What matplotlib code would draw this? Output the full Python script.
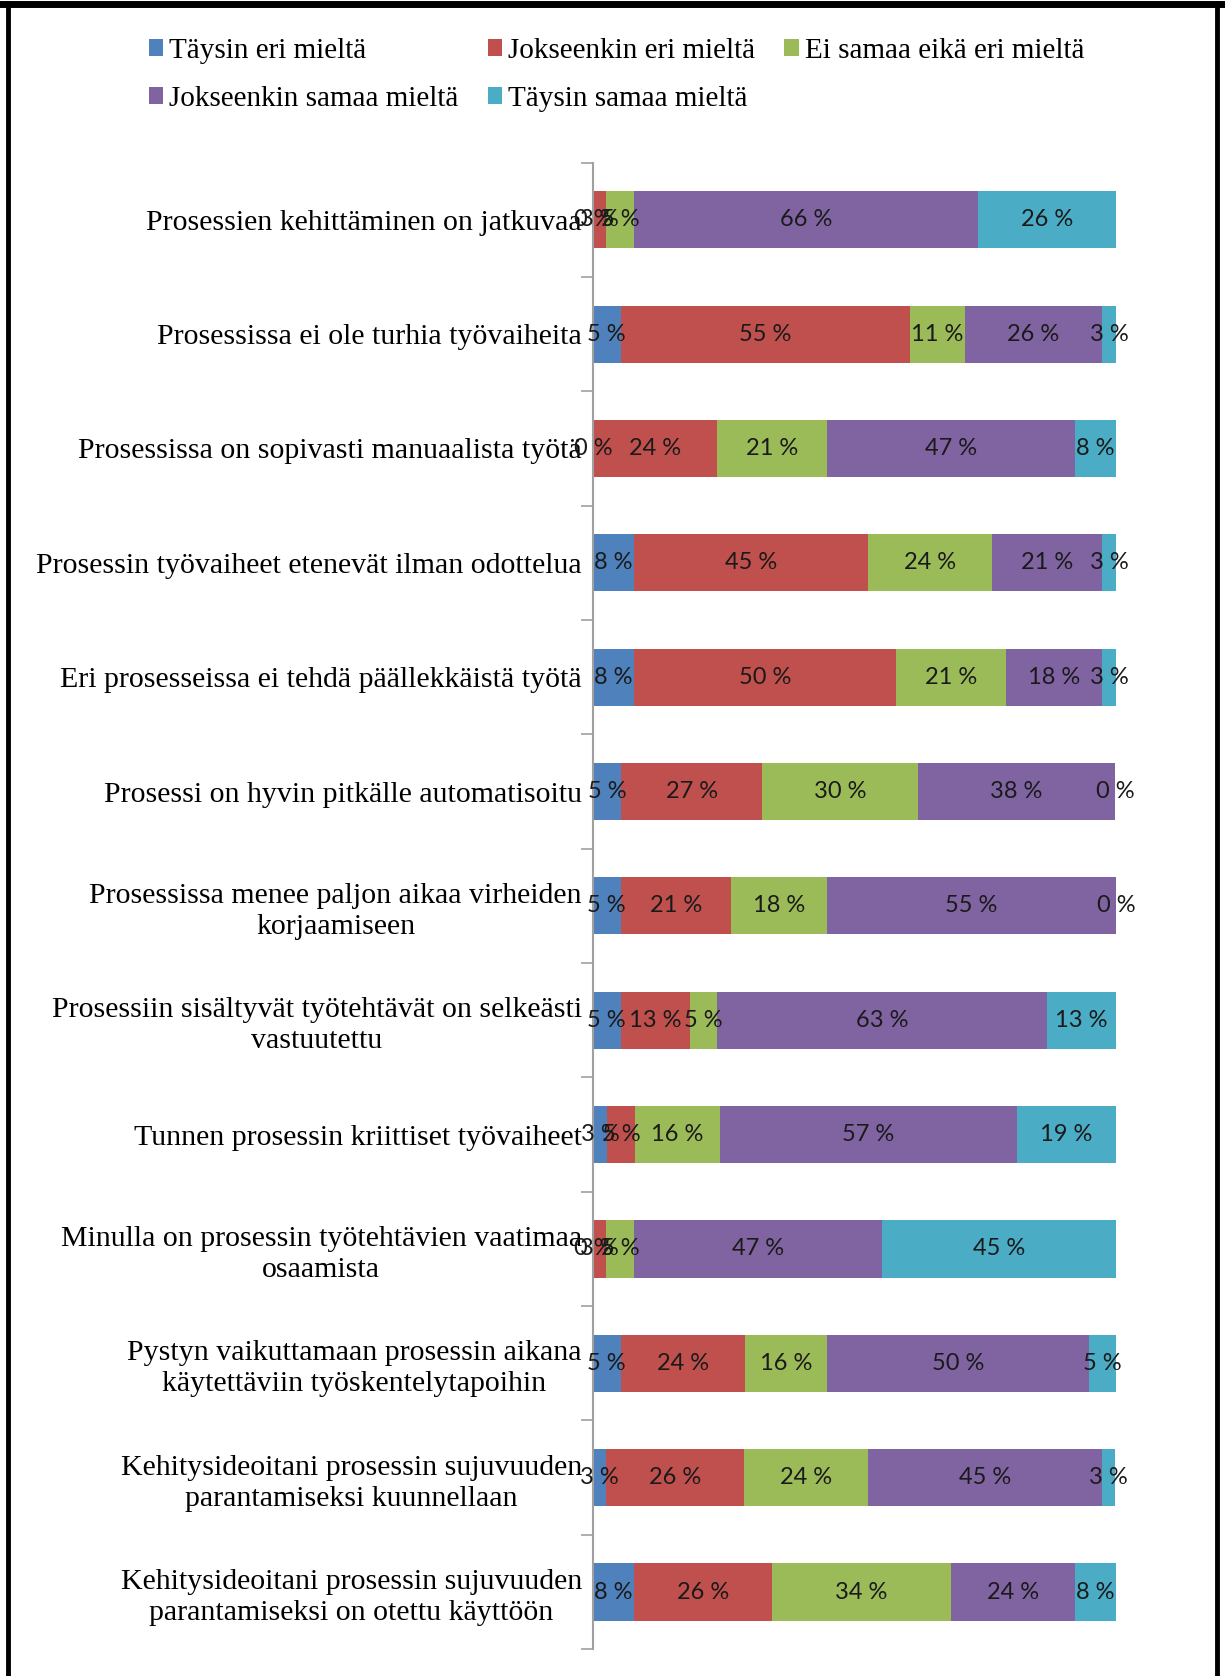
import matplotlib.pyplot as plt
from matplotlib.lines import Line2D
import numpy as np

categories = [
    "Prosessien kehittäminen on jatkuvaa",
    "Prosessissa ei ole turhia työvaiheita",
    "Prosessissa on sopivasti manuaalista työtä",
    "Prosessin työvaiheet etenevät ilman odottelua",
    "Eri prosesseissa ei tehdä päällekkäistä työtä",
    "Prosessi on hyvin pitkälle automatisoitu",
    "Prosessissa menee paljon aikaa virheiden\nkorjaamiseen",
    "Prosessiin sisältyvät työtehtävät on selkeästi\nvastuutettu",
    "Tunnen prosessin kriittiset työvaiheet",
    "Minulla on prosessin työtehtävien vaatimaa\nosaamista",
    "Pystyn vaikuttamaan prosessin aikana\nkäytettäviin työskentelytapoihin",
    "Kehitysideoitani prosessin sujuvuuden\nparantamiseksi kuunnellaan",
    "Kehitysideoitani prosessin sujuvuuden\nparantamiseksi on otettu käyttöön",
]

series = ["Täysin eri mieltä", "Jokseenkin eri mieltä", "Ei samaa eikä eri mieltä",
          "Jokseenkin samaa mieltä", "Täysin samaa mieltä"]

taysin_eri = [0, 5.3, 0, 7.9, 7.9, 5.4, 5.3, 5.3, 2.7, 0, 5.3, 2.6, 7.9]
jokseenkin_eri = [2.6, 55.3, 23.7, 44.7, 50.0, 27.0, 21.1, 13.2, 5.4, 2.6, 23.7, 26.3, 26.3]
ei_samaa = [5.3, 10.5, 21.1, 23.7, 21.1, 29.7, 18.4, 5.3, 16.2, 5.3, 15.8, 23.7, 34.2]
jokseenkin_samaa = [65.8, 26.3, 47.3, 21.1, 18.4, 37.8, 55.2, 63.1, 56.8, 47.4, 50.0, 44.7, 23.7]
taysin_samaa = [26.3, 2.6, 7.9, 2.6, 2.6, 0, 0, 13.1, 18.9, 44.7, 5.3, 2.6, 7.9]

colors = ["#4F81BD", "#C0504D", "#9BBB59", "#8064A2", "#4BACC6"]

serif = ["Liberation Serif", "DejaVu Serif"]
sans = ["Lato", "DejaVu Sans"]

fig = plt.figure(figsize=(12.25, 16.76), dpi=100)
ax = fig.add_axes([0.484, 0.016, 0.427, 0.887])

y = np.arange(len(categories))
left = np.zeros(len(categories))
handles = []
for name, vals, c in zip(series, [taysin_eri, jokseenkin_eri, ei_samaa, jokseenkin_samaa, taysin_samaa], colors):
    vals = np.array(vals)
    b = ax.barh(y, vals, left=left, height=0.5, color=c, label=name)
    ax.bar_label(b, labels=[f"{int(np.floor(v + 0.5))} %" for v in vals], label_type="center",
                 fontsize=17, family=sans, color="#1a1a1a", annotation_clip=False)
    handles.append(b)
    left += vals

ax.set_xlim(0, 100)
ax.set_ylim(len(categories) - 0.5, -0.5)
ax.set_yticks(y)
ax.set_yticklabels(categories, family=serif, fontsize=21.5)
for lab in ax.get_yticklabels():
    lab.set_multialignment("center")
    lab.set_linespacing(1.25)
ax.tick_params(axis="y", which="major", length=0, pad=8)
ax.set_yticks(np.arange(len(categories) + 1) - 0.5, minor=True)
ax.tick_params(axis="y", which="minor", length=9, color="#A0A0A0", width=1.2)
ax.set_xticks([])
for s in ["top", "right", "bottom"]:
    ax.spines[s].set_visible(False)
ax.spines["left"].set_color("#A0A0A0")
ax.spines["left"].set_linewidth(1.5)

# legend: reorder so it reads row by row like the original
order = [0, 3, 1, 4, 2]
fig.legend([handles[i] for i in order], [series[i] for i in order], ncol=3,
           loc="upper left", bbox_to_anchor=(0.1, 0.993), frameon=False,
           prop={"family": serif, "size": 21}, handlelength=0.5, handleheight=0.5,
           handletextpad=0.2, columnspacing=1.0, labelspacing=0.75)

# frame round the picture (no bottom edge, as in the original)
fig.add_artist(Line2D([0.0065, 0.0065], [0, 0.998], transform=fig.transFigure, color="black", lw=3.5))
fig.add_artist(Line2D([0.9935, 0.9935], [0, 0.998], transform=fig.transFigure, color="black", lw=3.5))
fig.add_artist(Line2D([0.0, 1.0], [0.9975, 0.9975], transform=fig.transFigure, color="black", lw=5))

fig.savefig("out.png", dpi=100)
